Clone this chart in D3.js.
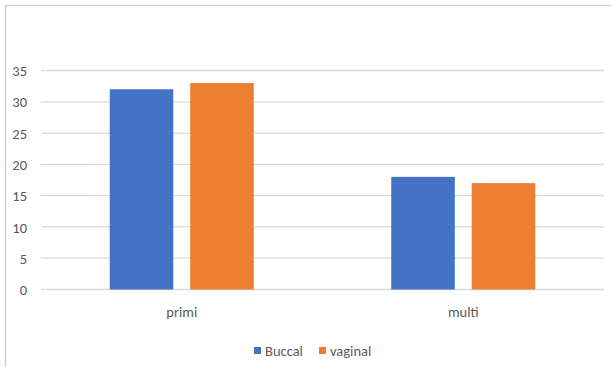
<!DOCTYPE html>
<html><head><meta charset="utf-8">
<script src="https://cdn.jsdelivr.net/npm/d3@7"></script>
<style>body{margin:0;background:#fff}svg{display:block}text{font-family:Carlito,Calibri,"Open Sans","Liberation Sans",sans-serif}</style>
</head><body><svg id="c" width="611" height="367"></svg>
<script>
const categories = ["primi", "multi"];
const seriesNames = ["Buccal", "vaginal"];
const buccal = [32, 18];
const vaginal = [33, 17];
const yTicks = [0, 5, 10, 15, 20, 25, 30, 35];
const colors = ["#4472C4", "#ED7D31"];

const svg = d3.select("#c");
// chart frame
svg.append("path").attr("d","M5.5,367 V5.5 H611").attr("fill","none").attr("stroke","#d0d0d0").attr("stroke-width",1.5);

const pLeft = 41, pRight = 604, pTop = 70.5, pBottom = 289.5;
const y = d3.scaleLinear().domain([0,35]).range([pBottom, pTop]);
const x0 = d3.scaleBand().domain(categories).range([pLeft,pRight]).paddingInner(0).paddingOuter(0);
const groupW = 144;
const x1 = d3.scaleBand().domain(seriesNames).range([0, groupW]).paddingInner(0.21);

// gridlines
svg.append("g").selectAll("line").data(yTicks).join("line")
  .attr("x1", pLeft).attr("x2", pRight).attr("y1", d=>y(d)).attr("y2", d=>y(d))
  .attr("stroke","#d9d9d9").attr("stroke-width",1.3);

// y labels
const yAxis = d3.axisLeft(y).tickValues(yTicks).tickSize(0).tickPadding(0);
const ga = svg.append("g").attr("transform","translate(27,0)").call(yAxis);
ga.select(".domain").remove();
ga.selectAll("text").attr("fill","#595959").style("font-size","14.5px").attr("dy","0.35em");

const data = categories.map((c,i)=>({cat:c, vals:[buccal[i], vaginal[i]]}));
const groups = svg.append("g").selectAll("g").data(data).join("g")
  .attr("transform", d=>`translate(${x0(d.cat)+x0.bandwidth()/2-groupW/2},0)`);
groups.selectAll("rect").data(d=>d.vals.map((v,j)=>({s:seriesNames[j], v, j}))).join("rect")
  .attr("x", d=>x1(d.s)).attr("width", x1.bandwidth())
  .attr("y", d=>y(d.v)).attr("height", d=>y(0)-y(d.v))
  .attr("fill", d=>colors[d.j]);

// x labels
const xAxis = d3.axisBottom(x0).tickSize(0).tickPadding(0);
const gx = svg.append("g").attr("transform",`translate(0,${pBottom+22})`).call(xAxis);
gx.select(".domain").remove();
gx.selectAll("text").attr("fill","#595959").style("font-size","14.5px").attr("dy","0.35em");

// legend
const legend = svg.append("g").attr("transform","translate(254,351)");
const items = [{n:"Buccal",x:0,c:colors[0]},{n:"vaginal",x:65,c:colors[1]}];
const li = legend.selectAll("g").data(items).join("g").attr("transform",d=>`translate(${d.x},0)`);
li.append("rect").attr("x",0).attr("y",-4).attr("width",7).attr("height",7).attr("fill",d=>d.c);
li.append("text").attr("x",11).attr("y",0).attr("dy","0.35em").attr("fill","#595959").style("font-size","14.5px").text(d=>d.n);
</script></body></html>
